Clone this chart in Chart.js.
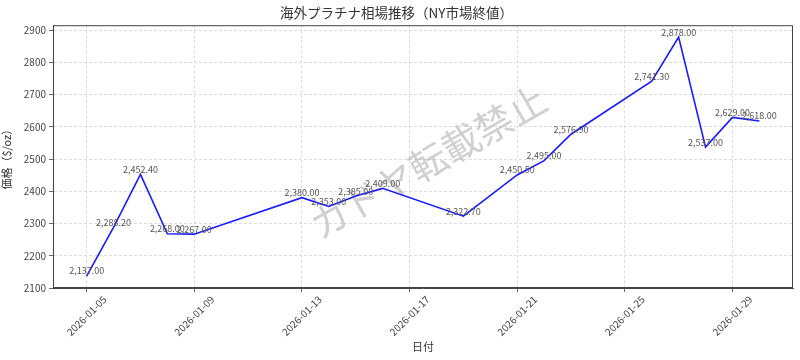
<!DOCTYPE html>
<html>
<head>
<meta charset="utf-8">
<script src="https://cdn.jsdelivr.net/npm/chart.js@4/dist/chart.umd.min.js"></script>
<style>
  html, body { margin: 0; padding: 0; background: #fff; }
  #wrap { width: 800px; height: 360px; }
</style>
</head>
<body>
<div id="wrap"><canvas id="priceChart"></canvas></div>
<script>
// NY終値（ドル/トロイオンス）
const dates = ['2026-01-05', '2026-01-06', '2026-01-07', '2026-01-08', '2026-01-09',
               '2026-01-13', '2026-01-14', '2026-01-15', '2026-01-16', '2026-01-19',
               '2026-01-21', '2026-01-22', '2026-01-23', '2026-01-26', '2026-01-27',
               '2026-01-28', '2026-01-29', '2026-01-30'];
const prices = [2137.00, 2288.20, 2452.40, 2268.00, 2267.00,
                2380.00, 2353.00, 2385.00, 2409.00, 2322.70,
                2450.50, 2495.00, 2576.90, 2741.30, 2878.00,
                2537.00, 2629.00, 2618.00];
const xTickDates = ['2026-01-05', '2026-01-09', '2026-01-13', '2026-01-17',
                    '2026-01-21', '2026-01-25', '2026-01-29'];
const yTicks = [2100, 2200, 2300, 2400, 2500, 2600, 2700, 2800, 2900];

const DAY = 86400000;
const FONT = '"Noto Sans CJK JP", "Noto Sans", sans-serif';
const toMs = s => Date.parse(s + 'T00:00:00Z');
const fmtPrice = v => v.toLocaleString('en-US', { minimumFractionDigits: 2, maximumFractionDigits: 2 });

const points = dates.map((d, i) => ({ x: toMs(d), y: prices[i] }));
const xMin = toMs(dates[0]) - 1.25 * DAY;
const xMax = toMs(dates[dates.length - 1]) + 1.25 * DAY;

// 値ラベル・枠・透かし・斜めの日付ラベル
const extras = {
    id: 'extras',
    beforeDatasetsDraw(chart) {
        const ctx = chart.ctx;
        ctx.save();
        ctx.translate(428, 162);
        ctx.rotate(-30 * Math.PI / 180);
        ctx.font = '38px ' + FONT;
        ctx.fillStyle = 'rgba(150, 150, 150, 0.45)';
        ctx.textAlign = 'center';
        ctx.textBaseline = 'middle';
        ctx.fillText('カドヤ転載禁止', 0, 0);
        ctx.restore();
    },
    afterDraw(chart) {
        const ctx = chart.ctx;
        const a = chart.chartArea;
        const xs = chart.scales.x, ys = chart.scales.y;
        ctx.save();
        ctx.strokeStyle = '#444';
        ctx.lineWidth = 1;
        ctx.strokeRect(a.left + 0.5, a.top + 0.5, a.right - a.left - 1, a.bottom - a.top - 1);

        ctx.font = '9px ' + FONT;
        ctx.fillStyle = '#555';
        ctx.textAlign = 'center';
        ctx.textBaseline = 'middle';
        points.forEach(p => {
            ctx.fillText(fmtPrice(p.y), xs.getPixelForValue(p.x), ys.getPixelForValue(p.y) - 5);
        });

        // 45度回転・中央揃えの日付ラベル
        ctx.font = '10px ' + FONT;
        ctx.fillStyle = '#444';
        const top = a.bottom + 6;
        xTickDates.forEach(d => {
            const w = ctx.measureText(d).width;
            const box = (w + 10) * Math.SQRT1_2;
            ctx.save();
            ctx.translate(xs.getPixelForValue(toMs(d)), top + box / 2);
            ctx.rotate(-Math.PI / 4);
            ctx.fillText(d, 0, 0);
            ctx.restore();
        });
        ctx.restore();
    }
};

const ctx = document.getElementById('priceChart').getContext('2d');
new Chart(ctx, {
    type: 'line',
    data: {
        datasets: [{
            data: points,
            borderColor: '#1a1aff',
            borderWidth: 1.6,
            pointRadius: 0,
            tension: 0,
            fill: false
        }]
    },
    options: {
        responsive: true,
        maintainAspectRatio: false,
        animation: false,
        layout: { padding: { left: 0, right: 7, top: 0, bottom: 0 } },
        scales: {
            x: {
                type: 'linear',
                min: xMin,
                max: xMax,
                afterBuildTicks: s => { s.ticks = xTickDates.map(d => ({ value: toMs(d) })); },
                afterFit: s => { s.height = 72; },
                ticks: { display: false },
                grid: { color: '#d4d4d4', tickColor: '#444', tickLength: 4, lineWidth: 0.8 },
                border: { color: '#444', dash: [3, 2] },
                title: {
                    display: true,
                    text: '日付',
                    color: '#333',
                    font: { family: FONT, size: 11 },
                    padding: { top: 0, bottom: 7 }
                }
            },
            y: {
                min: 2100,
                max: 2915,
                afterBuildTicks: s => { s.ticks = yTicks.map(v => ({ value: v })); },
                afterFit: s => { s.width = 53; },
                ticks: {
                    callback: v => String(v),
                    padding: 3,
                    color: '#444',
                    font: { family: FONT, size: 10 }
                },
                grid: { color: '#d4d4d4', tickColor: '#444', tickLength: 4, lineWidth: 0.8 },
                border: { color: '#444', dash: [3, 2] },
                title: {
                    display: true,
                    text: '価格（$/oz）',
                    color: '#333',
                    font: { family: FONT, size: 11 },
                    padding: { top: 0, bottom: 0 }
                }
            }
        },
        plugins: {
            legend: { display: false },
            tooltip: { enabled: false },
            title: {
                display: true,
                text: '海外プラチナ相場推移（NY市場終値）',
                color: '#333',
                font: { family: FONT, size: 13.5, weight: 'normal' },
                padding: { top: 5, bottom: 4 }
            }
        }
    },
    plugins: [extras]
});
</script>
</body>
</html>
